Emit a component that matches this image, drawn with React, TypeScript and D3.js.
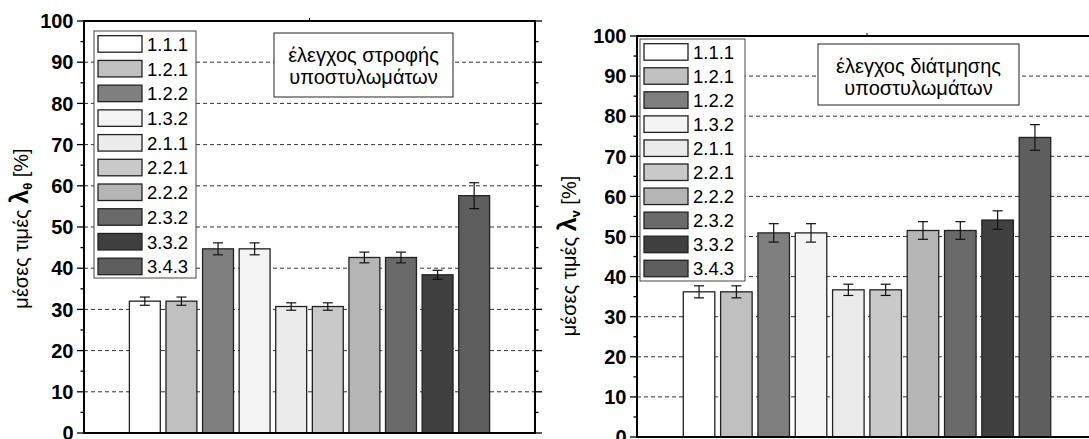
import React from "react";
import * as d3 from "d3";

// Test series shown in both panels
const series = ["1.1.1", "1.2.1", "1.2.2", "1.3.2", "2.1.1", "2.2.1", "2.2.2", "2.3.2", "3.3.2", "3.4.3"];
const seriesFills = ["#ffffff", "#c0c0c0", "#7f7f7f", "#f4f4f4", "#ebebeb", "#c9c9c9", "#b5b5b5", "#6a6a6a", "#404040", "#5e5e5e"];

// Mean λθ [%] (column rotation check) and their error half-widths
const rotationMeans = [32.0, 32.0, 44.7, 44.7, 30.7, 30.7, 42.6, 42.6, 38.4, 57.6];
const rotationErrors = [1.0, 1.0, 1.45, 1.45, 0.9, 0.9, 1.3, 1.3, 1.1, 3.15];

// Mean λv [%] (column shear check) and their error half-widths
const shearMeans = [36.2, 36.2, 50.9, 50.9, 36.7, 36.7, 51.5, 51.5, 54.1, 74.7];
const shearErrors = [1.5, 1.5, 2.3, 2.3, 1.4, 1.4, 2.2, 2.2, 2.3, 3.2];

const yTicks = [0, 10, 20, 30, 40, 50, 60, 70, 80, 90, 100];
const yMinorTicks = [5, 15, 25, 35, 45, 55, 65, 75, 85, 95];
const gridValues = [10, 20, 30, 40, 50, 60, 70, 80, 90];

const FONT = "Arial, 'Liberation Sans', Helvetica, sans-serif";

type PanelProps = {
  x0: number;
  x1: number;
  yTop: number;
  yBottom: number;
  means: number[];
  errors: number[];
  title: string[];
  box: { x: number; y: number; w: number; h: number };
  legend: { x: number; y: number; w: number; h: number };
  labelX: number;
  labelY: number;
  sub: string;
};

function Panel(p: PanelProps) {
  const x = d3
    .scaleBand<string>()
    .domain(series)
    .range([p.x0, p.x1])
    .paddingInner(0.155)
    .paddingOuter(1.24);
  const y = d3.scaleLinear().domain([0, 100]).range([p.yBottom, p.yTop]);
  const bw = x.bandwidth();
  const legendStep = y(0) - y(6);
  const midX = (p.x0 + p.x1) / 2;

  return (
    <g>
      {/* dashed grid */}
      {gridValues.map((v) => (
        <line
          key={"g" + v}
          x1={p.x0}
          x2={p.x1}
          y1={y(v)}
          y2={y(v)}
          stroke="#333"
          strokeWidth={1}
          strokeDasharray="4,3"
        />
      ))}

      {/* bars */}
      {series.map((s, i) => (
        <rect
          key={"b" + s}
          x={x(s)!}
          y={y(p.means[i])}
          width={bw}
          height={y(0) - y(p.means[i])}
          fill={seriesFills[i]}
          stroke="#222"
          strokeWidth={1.3}
        />
      ))}

      {/* error bars */}
      {series.map((s, i) => {
        const cx = x(s)! + bw / 2;
        const hi = y(p.means[i] + p.errors[i]);
        const lo = y(p.means[i] - p.errors[i]);
        return (
          <g key={"e" + s} stroke="#111" strokeWidth={1.2}>
            <line x1={cx} x2={cx} y1={hi} y2={lo} />
            <line x1={cx - 5} x2={cx + 5} y1={hi} y2={hi} />
            <line x1={cx - 5} x2={cx + 5} y1={lo} y2={lo} />
          </g>
        );
      })}

      {/* frame */}
      <rect
        x={p.x0}
        y={p.yTop}
        width={p.x1 - p.x0}
        height={p.yBottom - p.yTop}
        fill="none"
        stroke="#000"
        strokeWidth={2}
      />
      <line x1={midX} x2={midX} y1={p.yTop} y2={p.yTop - 3} stroke="#000" strokeWidth={1} />

      {/* y axis ticks (left and right) */}
      {yTicks.map((v) => (
        <g key={"t" + v} stroke="#000" strokeWidth={1.3}>
          <line x1={p.x0 - 7} x2={p.x0} y1={y(v)} y2={y(v)} />
          <line x1={p.x1} x2={p.x1 + 7} y1={y(v)} y2={y(v)} />
        </g>
      ))}
      {yMinorTicks.map((v) => (
        <g key={"m" + v} stroke="#000" strokeWidth={1.3}>
          <line x1={p.x0 - 3.5} x2={p.x0} y1={y(v)} y2={y(v)} />
          <line x1={p.x1} x2={p.x1 + 3.5} y1={y(v)} y2={y(v)} />
        </g>
      ))}
      {yTicks.map((v) => (
        <text
          key={"l" + v}
          x={p.x0 - 10.5}
          y={y(v)}
          dy="0.36em"
          textAnchor="end"
          fontFamily={FONT}
          fontWeight="bold"
          fontSize={20}
          fill="#000"
        >
          {v}
        </text>
      ))}

      {/* y axis title */}
      <text
        transform={`translate(${p.labelX},${p.labelY}) rotate(-90)`}
        textAnchor="middle"
        fontFamily={FONT}
        fontSize={20}
        fill="#000"
      >
        <tspan>μέσες τιμές </tspan>
        <tspan fontWeight="bold" fontSize={25}>λ</tspan>
        <tspan fontWeight="bold" fontSize={13} dy={4}>{p.sub}</tspan>
        <tspan dy={-4}> [%]</tspan>
      </text>

      {/* legend */}
      <rect
        x={p.legend.x}
        y={p.legend.y}
        width={p.legend.w}
        height={p.legend.h}
        fill="#fff"
        stroke="#444"
        strokeWidth={1}
      />
      {series.map((s, i) => {
        const top = p.legend.y + 4.7 + i * legendStep;
        return (
          <g key={"lg" + s}>
            <rect
              x={p.legend.x + 4}
              y={top}
              width={44}
              height={16.5}
              fill={seriesFills[i]}
              stroke="#222"
              strokeWidth={1.3}
            />
            <text
              x={p.legend.x + 53}
              y={top + 8.5}
              dy="0.36em"
              fontFamily={FONT}
              fontSize={18.5}
              fill="#000"
            >
              {s}
            </text>
          </g>
        );
      })}

      {/* check label box */}
      <rect
        x={p.box.x}
        y={p.box.y}
        width={p.box.w}
        height={p.box.h}
        fill="#fff"
        stroke="#222"
        strokeWidth={1}
      />
      {p.title.map((t, i) => (
        <text
          key={"tt" + i}
          x={p.box.x + p.box.w / 2}
          y={p.box.y + 28.5 + i * 22}
          textAnchor="middle"
          fontFamily={FONT}
          fontSize={20}
          fill="#000"
        >
          {t}
        </text>
      ))}
    </g>
  );
}

export default function App() {
  return (
    <svg
      width={1089}
      height={439}
      style={{ position: "absolute", left: 0, top: 0, background: "#fff" }}
    >
      <rect width={1089} height={439} fill="#fff" />
      <Panel
        x0={84}
        x1={535}
        yTop={21}
        yBottom={433}
        means={rotationMeans}
        errors={rotationErrors}
        title={["έλεγχος στροφής", "υποστυλωμάτων"]}
        box={{ x: 274, y: 33, w: 179, h: 64 }}
        legend={{ x: 94, y: 31, w: 102, h: 247 }}
        labelX={28}
        labelY={228.5}
        sub="θ"
      />
      <Panel
        x0={637}
        x1={1097}
        yTop={36}
        yBottom={437}
        means={shearMeans}
        errors={shearErrors}
        title={["έλεγχος διάτμησης", "υποστυλωμάτων"]}
        box={{ x: 818, y: 44, w: 201, h: 61 }}
        legend={{ x: 640, y: 39, w: 105, h: 242 }}
        labelX={576}
        labelY={256}
        sub="v"
      />
    </svg>
  );
}
